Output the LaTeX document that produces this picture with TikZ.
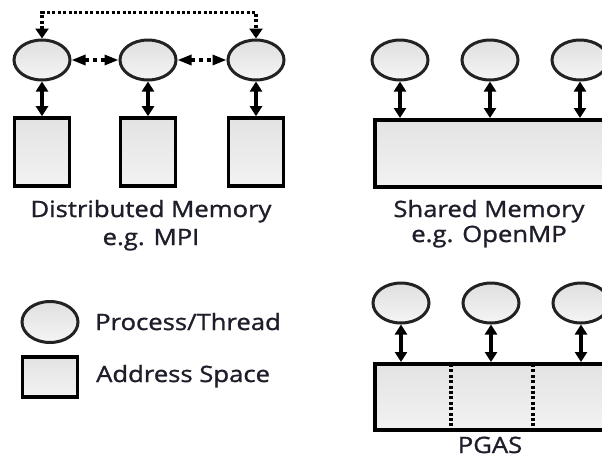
\documentclass[tikz,border=0pt]{standalone}
\usepackage{fontspec}
\setmainfont{Open Sans}[FakeStretch=1.14,FakeBold=1.2]
\usetikzlibrary{arrows.meta,shapes.geometric}

\definecolor{inkdark}{HTML}{222222}
\definecolor{labelink}{HTML}{1E1E2A}

\begin{document}
\begin{tikzpicture}[x=1pt,y=-1pt,
  proc/.style={ellipse, draw=inkdark, line width=3pt, top color=gray!25, bottom color=gray!8,
    minimum width=56pt, minimum height=40pt, inner sep=0pt},
  addr/.style={rectangle, draw=black, line width=3.6pt, top color=gray!22, bottom color=gray!10,
    inner sep=0pt},
  link/.style={{Triangle[length=10pt,width=12pt]}-{Triangle[length=10pt,width=12pt]}, line width=3.8pt},
  peer/.style={{Triangle[length=14pt,width=10pt]}-{Triangle[length=14pt,width=10pt]}, line width=3.2pt,
    dash pattern=on 4.5pt off 3.5pt},
  remote/.style={{Triangle[length=10pt,width=13pt]}-{Triangle[length=10pt,width=13pt]}, line width=3.4pt,
    dash pattern=on 3pt off 2.4pt},
  lbl/.style={font=\fontsize{22.5}{27}\selectfont, text=labelink, align=center, inner sep=0pt}]
  \useasboundingbox (0,0) rectangle (602,459);
  \clip (0,0) rectangle (602,459);

  % distributed memory
  \foreach \i/\x in {1/42,2/148,3/256} {
    \node[proc] (dp\i) at (\x,60) {};
    \node[addr, minimum width=55pt, minimum height=68pt] (dm\i) at (\x,152) {};
    \draw[link] (dp\i.south) -- (dm\i.north);
  }
  \draw[peer] (dp1) -- (dp2);
  \draw[peer] (dp2) -- (dp3);
  \draw[remote] (dp1.north) -- ++(0,-26) -| (dp3.north);
  \node[lbl, anchor=base] (dlabel) at (151,217) {Distributed Memory};
  \node[lbl, anchor=base] (dsub) at (151,245) {e.g. MPI};

  % shared memory
  \node[addr, anchor=north west, minimum width=260pt, minimum height=67pt] (sm) at (373,118) {};
  \foreach \i/\x in {1/400,2/490,3/580} {
    \node[proc] (sp\i) at (\x,60) {};
    \draw[link] (sp\i.south) -- (sp\i.south |- sm.north);
  }
  \node[lbl, anchor=base] (slabel) at (489,217) {Shared Memory};
  \node[lbl, anchor=base] (ssub) at (489,242) {e.g. OpenMP};

  % pgas
  \node[addr, anchor=north west, minimum width=260pt, minimum height=66pt] (pm) at (373,362) {};
  \draw[line width=3.2pt, dash pattern=on 3pt off 2.4pt] (451,364) -- (451,426);
  \draw[line width=3.2pt, dash pattern=on 3pt off 2.4pt] (533,364) -- (533,426);
  \foreach \i/\x in {1/401,2/491,3/581} {
    \node[proc] (pp\i) at (\x,303) {};
    \draw[link] (pp\i.south) -- (pp\i.south |- pm.north);
  }
  \node[lbl, anchor=base] (plabel) at (490,453) {PGAS};

  % legend
  \node[proc, minimum width=56pt, minimum height=41pt] (kproc) at (50,322) {};
  \node[addr, minimum width=55pt, minimum height=40pt] (kaddr) at (50,377) {};
  \node[lbl, anchor=base west] (tproc) at (95,330) {Process/Thread};
  \node[lbl, anchor=base west] (taddr) at (96,382) {Address Space};
\end{tikzpicture}
\end{document}
